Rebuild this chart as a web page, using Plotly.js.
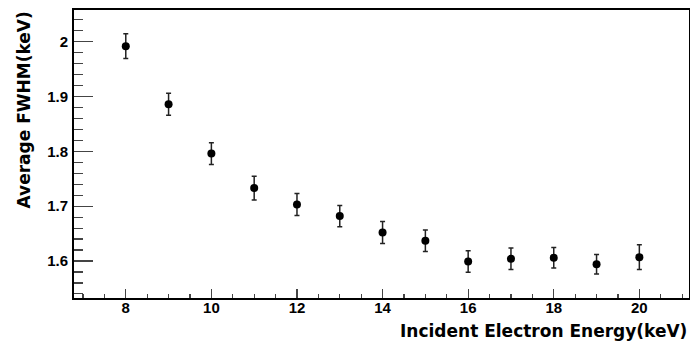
<!DOCTYPE html>
<html>
<head>
<meta charset="utf-8">
<script src="https://cdn.plot.ly/plotly-3.0.1.min.js"></script>
<style>html,body{margin:0;padding:0;background:#fff;}#chart{width:690px;height:342px;}</style>
</head>
<body>
<div id="chart"></div>
<script>
const energy = [8, 9, 10, 11, 12, 13, 14, 15, 16, 17, 18, 19, 20];
const fwhm = [1.992, 1.886, 1.796, 1.733, 1.703, 1.682, 1.652, 1.637, 1.599, 1.604, 1.606, 1.594, 1.607];
const fwhmErr = [0.0225, 0.020, 0.020, 0.0215, 0.020, 0.0195, 0.020, 0.0198, 0.0197, 0.0197, 0.0188, 0.0177, 0.0225];
const xTickVals = [8, 10, 12, 14, 16, 18, 20];
const xTickText = ["8", "10", "12", "14", "16", "18", "20"];
const yTickVals = [1.6, 1.7, 1.8, 1.9, 2.0];
const yTickText = ["1.6", "1.7", "1.8", "1.9", "2"];
const xTitle = "Incident Electron Energy(keV)";
const yTitle = "Average FWHM(keV)";

const tickFont = "Liberation Sans";
const titleFont = "DejaVu Sans";
const bold = s => "<b>" + s + "</b>";

const trace = {
  x: energy,
  y: fwhm,
  type: "scatter",
  mode: "markers",
  marker: {color: "#000", size: 8, symbol: "circle"},
  error_y: {type: "data", array: fwhmErr, visible: true, color: "#222", thickness: 1.5, width: 2.5},
  showlegend: false,
  hoverinfo: "skip"
};

const layout = {
  width: 690,
  height: 342,
  margin: {l: 74, r: 1, t: 10, b: 44},
  paper_bgcolor: "#fff",
  plot_bgcolor: "#fff",
  showlegend: false,
  xaxis: {
    range: [6.79, 21.16],
    tickmode: "array", tickvals: xTickVals, ticktext: xTickText.map(bold),
    ticks: "inside", ticklen: 9, tickwidth: 1.2, tickcolor: "#444",
    minor: {tick0: 0, dtick: 0.5, ticks: "inside", ticklen: 4.5, tickwidth: 1.2, tickcolor: "#444", showgrid: false},
    showgrid: false, zeroline: false,
    showline: true, linecolor: "#000", linewidth: 2, mirror: true,
    tickfont: {family: tickFont, size: 15, color: "#000"},
    ticklabelstandoff: -5
  },
  yaxis: {
    range: [1.5325, 2.058],
    tickmode: "array", tickvals: yTickVals, ticktext: yTickText.map(bold),
    ticks: "inside", ticklen: 19, tickwidth: 1.2, tickcolor: "#444",
    minor: {tick0: 0, dtick: 0.02, ticks: "inside", ticklen: 9, tickwidth: 1.2, tickcolor: "#444", showgrid: false},
    showgrid: false, zeroline: false,
    showline: true, linecolor: "#000", linewidth: 2, mirror: true,
    tickfont: {family: tickFont, size: 15, color: "#000"},
    ticklabelstandoff: 1
  },
  annotations: [
    {
      text: bold(xTitle), xref: "paper", yref: "paper",
      x: 1.0, y: 0, xanchor: "right", yanchor: "middle",
      yshift: -33, xshift: 0,
      showarrow: false,
      font: {family: titleFont, size: 17, color: "#000"}
    },
    {
      text: bold(yTitle), xref: "paper", yref: "paper",
      x: 0, y: 1.0, xanchor: "center", yanchor: "top",
      xshift: -51, yshift: 0,
      textangle: -90,
      showarrow: false,
      font: {family: titleFont, size: 17, color: "#000"}
    }
  ]
};

Plotly.newPlot("chart", [trace], layout, {displayModeBar: false, staticPlot: true});
</script>
</body>
</html>
